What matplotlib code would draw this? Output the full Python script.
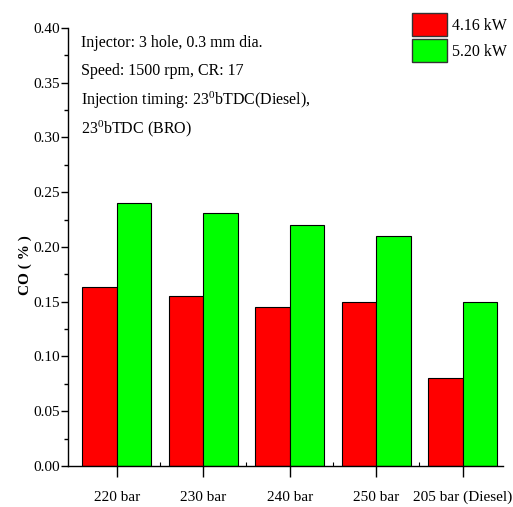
import matplotlib
matplotlib.use("Agg")
import matplotlib.pyplot as plt
import numpy as np
from matplotlib.ticker import MultipleLocator, FormatStrFormatter
from matplotlib.patches import Patch

plt.rcParams['font.family'] = ['Liberation Serif', 'DejaVu Serif']
plt.rcParams['mathtext.fontset'] = 'custom'
plt.rcParams['mathtext.rm'] = 'Liberation Serif'
plt.rcParams['mathtext.it'] = 'Liberation Serif:italic'
plt.rcParams['mathtext.bf'] = 'Liberation Serif:bold'

categories = ["220 bar", "230 bar", "240 bar", "250 bar", "205 bar (Diesel)"]
series_names = ["4.16 kW", "5.20 kW"]
co_416 = [0.163, 0.155, 0.145, 0.150, 0.080]
co_520 = [0.240, 0.231, 0.220, 0.210, 0.150]
colors = ["#FF0000", "#00FF00"]

fig = plt.figure(figsize=(5.13, 5.07), dpi=100)
ax = fig.add_axes([0.1326, 0.0809, 0.8479, 0.8639])

x = np.arange(len(categories))
w = 0.4
ax.bar(x - w/2, co_416, width=w, color=colors[0], edgecolor='black', linewidth=0.8)
ax.bar(x + w/2, co_520, width=w, color=colors[1], edgecolor='black', linewidth=0.8)

ax.set_xlim(-0.563, 4.466)
ax.set_ylim(0, 0.40)
ax.set_xticks(x)
ax.set_xticklabels(categories, fontsize=11)
ax.set_xticks(np.arange(len(categories) - 1) + 0.5, minor=True)
ax.yaxis.set_major_locator(MultipleLocator(0.05))
ax.yaxis.set_minor_locator(MultipleLocator(0.025))
ax.yaxis.set_major_formatter(FormatStrFormatter('%.2f'))
ax.tick_params(axis='y', which='major', direction='out', length=5, width=1, labelsize=11, pad=1)
ax.tick_params(axis='y', which='minor', direction='out', length=3, width=1)
ax.tick_params(axis='x', which='major', direction='out', length=8, width=1, pad=10)
ax.tick_params(axis='x', which='minor', direction='in', length=3, width=0.8)

for s in ['top', 'right']:
    ax.spines[s].set_visible(False)
for s in ['left', 'bottom']:
    ax.spines[s].set_linewidth(1.0)

ax.set_ylabel("CO ( % )", fontsize=11, fontweight='bold')
ax.yaxis.set_label_coords(-0.082, 0.459)

lines = ["Injector: 3 hole, 0.3 mm dia.",
         "Speed: 1500 rpm, CR: 17",
         r"Injection timing: 23$^{0}$bTDC(Diesel),",
         r"23$^{0}$bTDC (BRO)"]
ys = [43, 71, 100, 129]
for t, yp in zip(lines, ys):
    fig.text(81/513, 1 - yp/507, t, fontsize=11.5, ha='left', va='center')

handles = [Patch(facecolor=c, edgecolor='#333333', linewidth=1) for c in colors]
fig.legend(handles, series_names, loc='upper left', bbox_to_anchor=(407/513, 1 - 8/507),
           frameon=False, fontsize=11.5, handlelength=2.2, handleheight=1.9,
           labelspacing=0.15, handletextpad=0.3, borderaxespad=0, borderpad=0.3)

fig.savefig("out.png", dpi=100)
